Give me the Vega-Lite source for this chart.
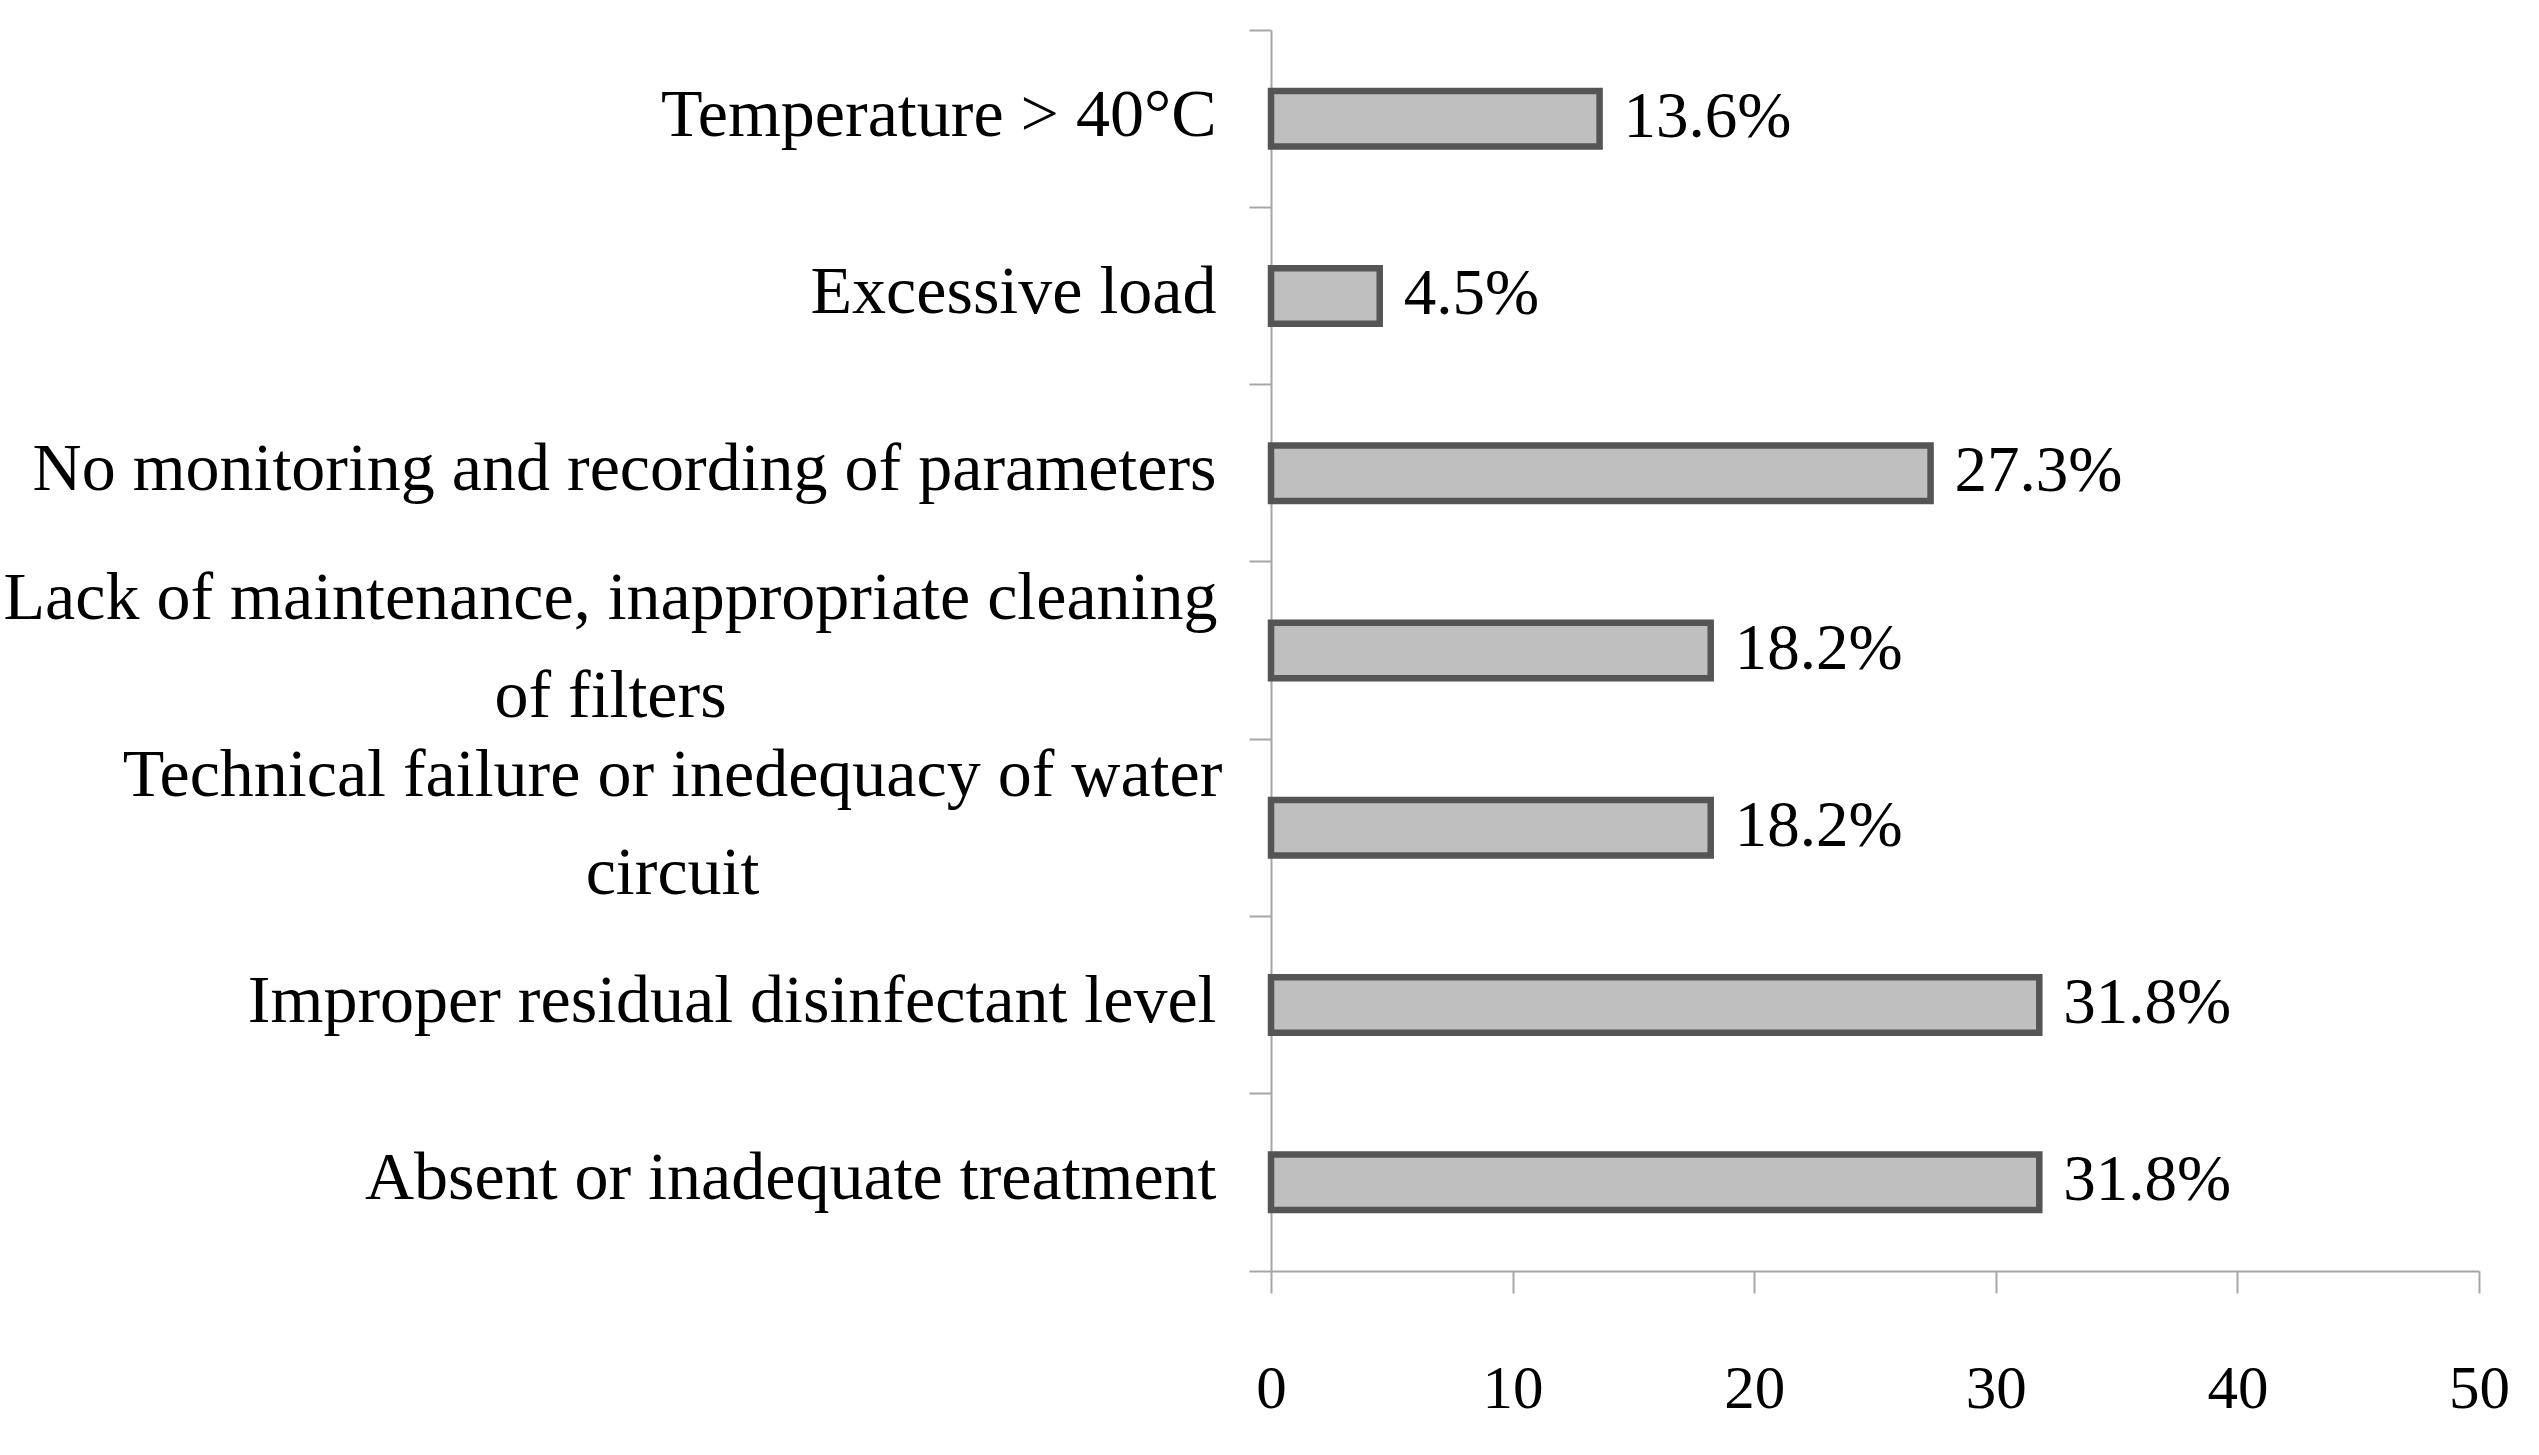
{
  "$schema": "https://vega.github.io/schema/vega-lite/v6.json",
  "autosize": "none",
  "width": 1208,
  "height": 1241,
  "padding": {"left": 1271, "top": 30, "right": 60, "bottom": 184},
  "background": "white",
  "config": {"view": {"stroke": null}, "font": "Liberation Serif"},
  "data": {
    "values": [
      {"cause": "Temperature > 40°C", "value": 13.6, "label": "13.6%"},
      {"cause": "Excessive load", "value": 4.5, "label": "4.5%"},
      {"cause": "No monitoring and recording of parameters", "value": 27.3, "label": "27.3%"},
      {"cause": "Lack of maintenance, inappropriate cleaning\nof filters", "value": 18.2, "label": "18.2%"},
      {"cause": "Technical failure or inedequacy of water\ncircuit", "value": 18.2, "label": "18.2%"},
      {"cause": "Improper residual disinfectant level", "value": 31.8, "label": "31.8%"},
      {"cause": "Absent or inadequate treatment", "value": 31.8, "label": "31.8%"}
    ]
  },
  "encoding": {
    "y": {
      "field": "cause",
      "type": "nominal",
      "sort": null,
      "scale": {"paddingInner": 0, "paddingOuter": 0},
      "axis": {
        "title": null,
        "bandPosition": 1,
        "tickExtra": true,
        "domainColor": "#a6a6a6",
        "domainWidth": 2,
        "tickColor": "#a6a6a6",
        "tickWidth": 2,
        "tickSize": 22,
        "labelFont": "Liberation Serif",
        "labelFontSize": 68,
        "labelColor": "#000000",
        "labelLimit": 2000,
        "labelLineHeight": 98,
        "labelBaseline": "middle",
        "labelExpr": "split(datum.label, '\\n')",
        "labelAlign": {
          "condition": {"test": "datum.value === 'Lack of maintenance, inappropriate cleaning\\nof filters' || datum.value === 'Technical failure or inedequacy of water\\ncircuit'", "value": "center"},
          "value": "right"
        },
        "labelOffset": {
          "condition": {"test": "datum.value === 'Lack of maintenance, inappropriate cleaning\\nof filters' || datum.value === 'Technical failure or inedequacy of water\\ncircuit'", "value": -52},
          "value": -3
        },
        "labelPadding": {
          "condition": [
            {"test": "datum.value === 'Lack of maintenance, inappropriate cleaning\\nof filters'", "value": 639},
            {"test": "datum.value === 'Technical failure or inedequacy of water\\ncircuit'", "value": 577}
          ],
          "value": 33
        }
      }
    }
  },
  "layer": [
    {
      "mark": {
        "type": "bar",
        "height": {"band": 0.313},
        "fill": "#bfbfbf",
        "stroke": "#555555",
        "strokeWidth": 6.5
      },
      "encoding": {
        "x": {
          "field": "value",
          "type": "quantitative",
          "scale": {"domain": [0, 50], "nice": false, "zero": true},
          "axis": {
            "title": null,
            "values": [0, 10, 20, 30, 40, 50],
            "grid": false,
            "domainColor": "#a6a6a6",
            "domainWidth": 2,
            "tickColor": "#a6a6a6",
            "tickWidth": 2,
            "tickSize": 22,
            "labelFont": "Liberation Serif",
            "labelFontSize": 61,
            "labelColor": "#000000",
            "labelPadding": 66,
            "labelBaseline": "top",
            "labelFlush": false
          }
        }
      }
    },
    {
      "mark": {
        "type": "text",
        "align": "left",
        "baseline": "middle",
        "dx": 24,
        "dy": -2,
        "font": "Liberation Serif",
        "fontSize": 65,
        "color": "#000000"
      },
      "encoding": {
        "x": {"field": "value", "type": "quantitative"},
        "text": {"field": "label"}
      }
    }
  ]
}
